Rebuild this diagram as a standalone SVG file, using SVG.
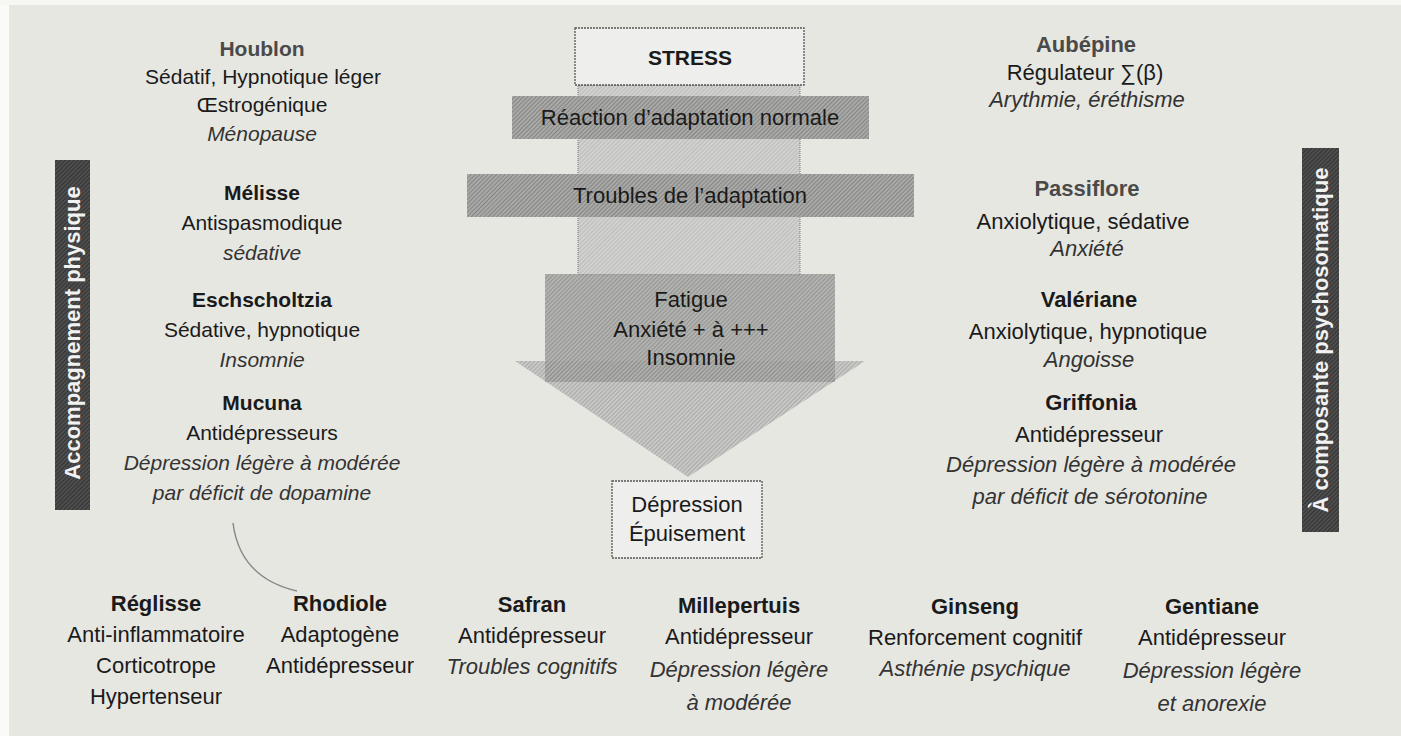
<svg xmlns="http://www.w3.org/2000/svg" width="1401" height="736" viewBox="0 0 1401 736">
<defs>
<pattern id="hMid" width="3" height="3" patternUnits="userSpaceOnUse" patternTransform="rotate(45)"><rect width="3" height="3" fill="#a9a9a7"/><rect width="1" height="3" fill="#858583"/></pattern>
<pattern id="hLight" width="3" height="3" patternUnits="userSpaceOnUse" patternTransform="rotate(45)"><rect width="3" height="3" fill="#d2d2d0"/><rect width="1" height="3" fill="#bbbbb9"/></pattern>
<pattern id="hTri" width="3" height="3" patternUnits="userSpaceOnUse" patternTransform="rotate(45)"><rect width="3" height="3" fill="#c8c8c6"/><rect width="1" height="3" fill="#a9a9a7"/></pattern>
<pattern id="hDark" width="3" height="3" patternUnits="userSpaceOnUse" patternTransform="rotate(45)"><rect width="3" height="3" fill="#4e4e4e"/><rect width="1" height="3" fill="#333"/></pattern>
</defs>
<style>
text{font-family:"Liberation Sans",Arial,sans-serif;font-size:22px;fill:#1a1a1a;text-anchor:middle}
.b{font-weight:bold}
.h{font-weight:bold;fill:#4a4a4a}
.i{font-style:italic;fill:#333}
.l text{font-size:21px}
.box{fill:#eeeeec;stroke:#555;stroke-width:1.3;stroke-dasharray:2 1}
.side{font-weight:bold;fill:#f2f2f2}
</style>
<rect width="1401" height="736" fill="#e7e7e2"/>
<rect x="0" y="0" width="9" height="736" fill="#fafaf8"/>
<rect x="0" y="0" width="1401" height="5" fill="#f6f6f3"/>

<g id="connectors">
<path d="M233,523 Q240,578 297,591" fill="none" stroke="#8a8a8a" stroke-width="1.5"/>
</g>

<g id="flow">
<rect x="578" y="85" width="222" height="190" fill="url(#hLight)" stroke="#777" stroke-width="1" stroke-dasharray="1 1"/>
<polygon points="515,361 865,361 688,477" fill="url(#hTri)"/>
</g>

<g id="stress"><rect class="box" x="575" y="28" width="229" height="57"/><text class="b" x="690" y="65" style="font-size:21px">STRESS</text></g>
<g id="reaction"><rect x="512" y="96" width="357" height="43" fill="url(#hMid)"/><text x="690" y="125">Réaction d’adaptation normale</text></g>
<g id="troubles"><rect x="467" y="174" width="447" height="43" fill="url(#hMid)"/><text x="690" y="203">Troubles de l’adaptation</text></g>
<g id="fatigue"><rect x="545" y="274" width="290" height="108" fill="url(#hMid)" fill-opacity="0.85"/><text x="691" y="307">Fatigue</text><text x="691" y="337">Anxiété + à +++</text><text x="691" y="365">Insomnie</text></g>
<g id="depression"><rect class="box" x="612" y="481" width="150" height="77"/><text x="687" y="512">Dépression</text><text x="687" y="541">Épuisement</text></g>

<g id="accompagnement"><rect x="55" y="160" width="35" height="350" fill="url(#hDark)"/><text class="side" transform="translate(80,333) rotate(-90)">Accompagnement physique</text></g>
<g id="psychosomatique"><rect x="1302" y="148" width="37" height="384" fill="url(#hDark)"/><text class="side" transform="translate(1328,340) rotate(-90)">À composante psychosomatique</text></g>

<g class="l">
<g id="houblon"><text class="h" x="262" y="56">Houblon</text><text x="263" y="84">Sédatif, Hypnotique léger</text><text x="262" y="112">Œstrogénique</text><text class="i" x="262" y="141">Ménopause</text></g>
<g id="melisse"><text class="b" x="262" y="200">Mélisse</text><text x="262" y="230">Antispasmodique</text><text class="i" x="262" y="260">sédative</text></g>
<g id="eschscholtzia"><text class="b" x="262" y="307">Eschscholtzia</text><text x="262" y="337">Sédative, hypnotique</text><text class="i" x="262" y="367">Insomnie</text></g>
<g id="mucuna"><text class="b" x="262" y="410">Mucuna</text><text x="262" y="440">Antidépresseurs</text><text class="i" x="262" y="470">Dépression légère à modérée</text><text class="i" x="262" y="500">par déficit de dopamine</text></g>
</g>

<g id="aubepine"><text class="h" x="1086" y="52">Aubépine</text><text x="1085" y="80">Régulateur ∑(β)</text><text class="i" x="1087" y="107">Arythmie,  éréthisme</text></g>
<g id="passiflore"><text class="h" x="1087" y="196">Passiflore</text><text x="1083" y="229">Anxiolytique, sédative</text><text class="i" x="1087" y="256">Anxiété</text></g>
<g id="valeriane"><text class="b" x="1089" y="307">Valériane</text><text x="1088" y="339">Anxiolytique, hypnotique</text><text class="i" x="1089" y="367">Angoisse</text></g>
<g id="griffonia"><text class="b" x="1091" y="410">Griffonia</text><text x="1089" y="442">Antidépresseur</text><text class="i" x="1091" y="472">Dépression légère à modérée</text><text class="i" x="1090" y="504">par déficit de sérotonine</text></g>

<g id="reglisse"><text class="b" x="156" y="611">Réglisse</text><text x="156" y="642">Anti-inflammatoire</text><text x="156" y="673">Corticotrope</text><text x="156" y="704">Hypertenseur</text></g>
<g id="rhodiole"><text class="b" x="340" y="611">Rhodiole</text><text x="340" y="642">Adaptogène</text><text x="340" y="673">Antidépresseur</text></g>
<g id="safran"><text class="b" x="532" y="612">Safran</text><text x="532" y="643">Antidépresseur</text><text class="i" x="532" y="674">Troubles cognitifs</text></g>
<g id="millepertuis"><text class="b" x="739" y="613">Millepertuis</text><text x="739" y="644">Antidépresseur</text><text class="i" x="739" y="677">Dépression légère</text><text class="i" x="739" y="710">à modérée</text></g>
<g id="ginseng"><text class="b" x="975" y="614">Ginseng</text><text x="975" y="645">Renforcement cognitif</text><text class="i" x="975" y="676">Asthénie psychique</text></g>
<g id="gentiane"><text class="b" x="1212" y="614">Gentiane</text><text x="1212" y="645">Antidépresseur</text><text class="i" x="1212" y="678">Dépression légère</text><text class="i" x="1212" y="711">et anorexie</text></g>
</svg>
